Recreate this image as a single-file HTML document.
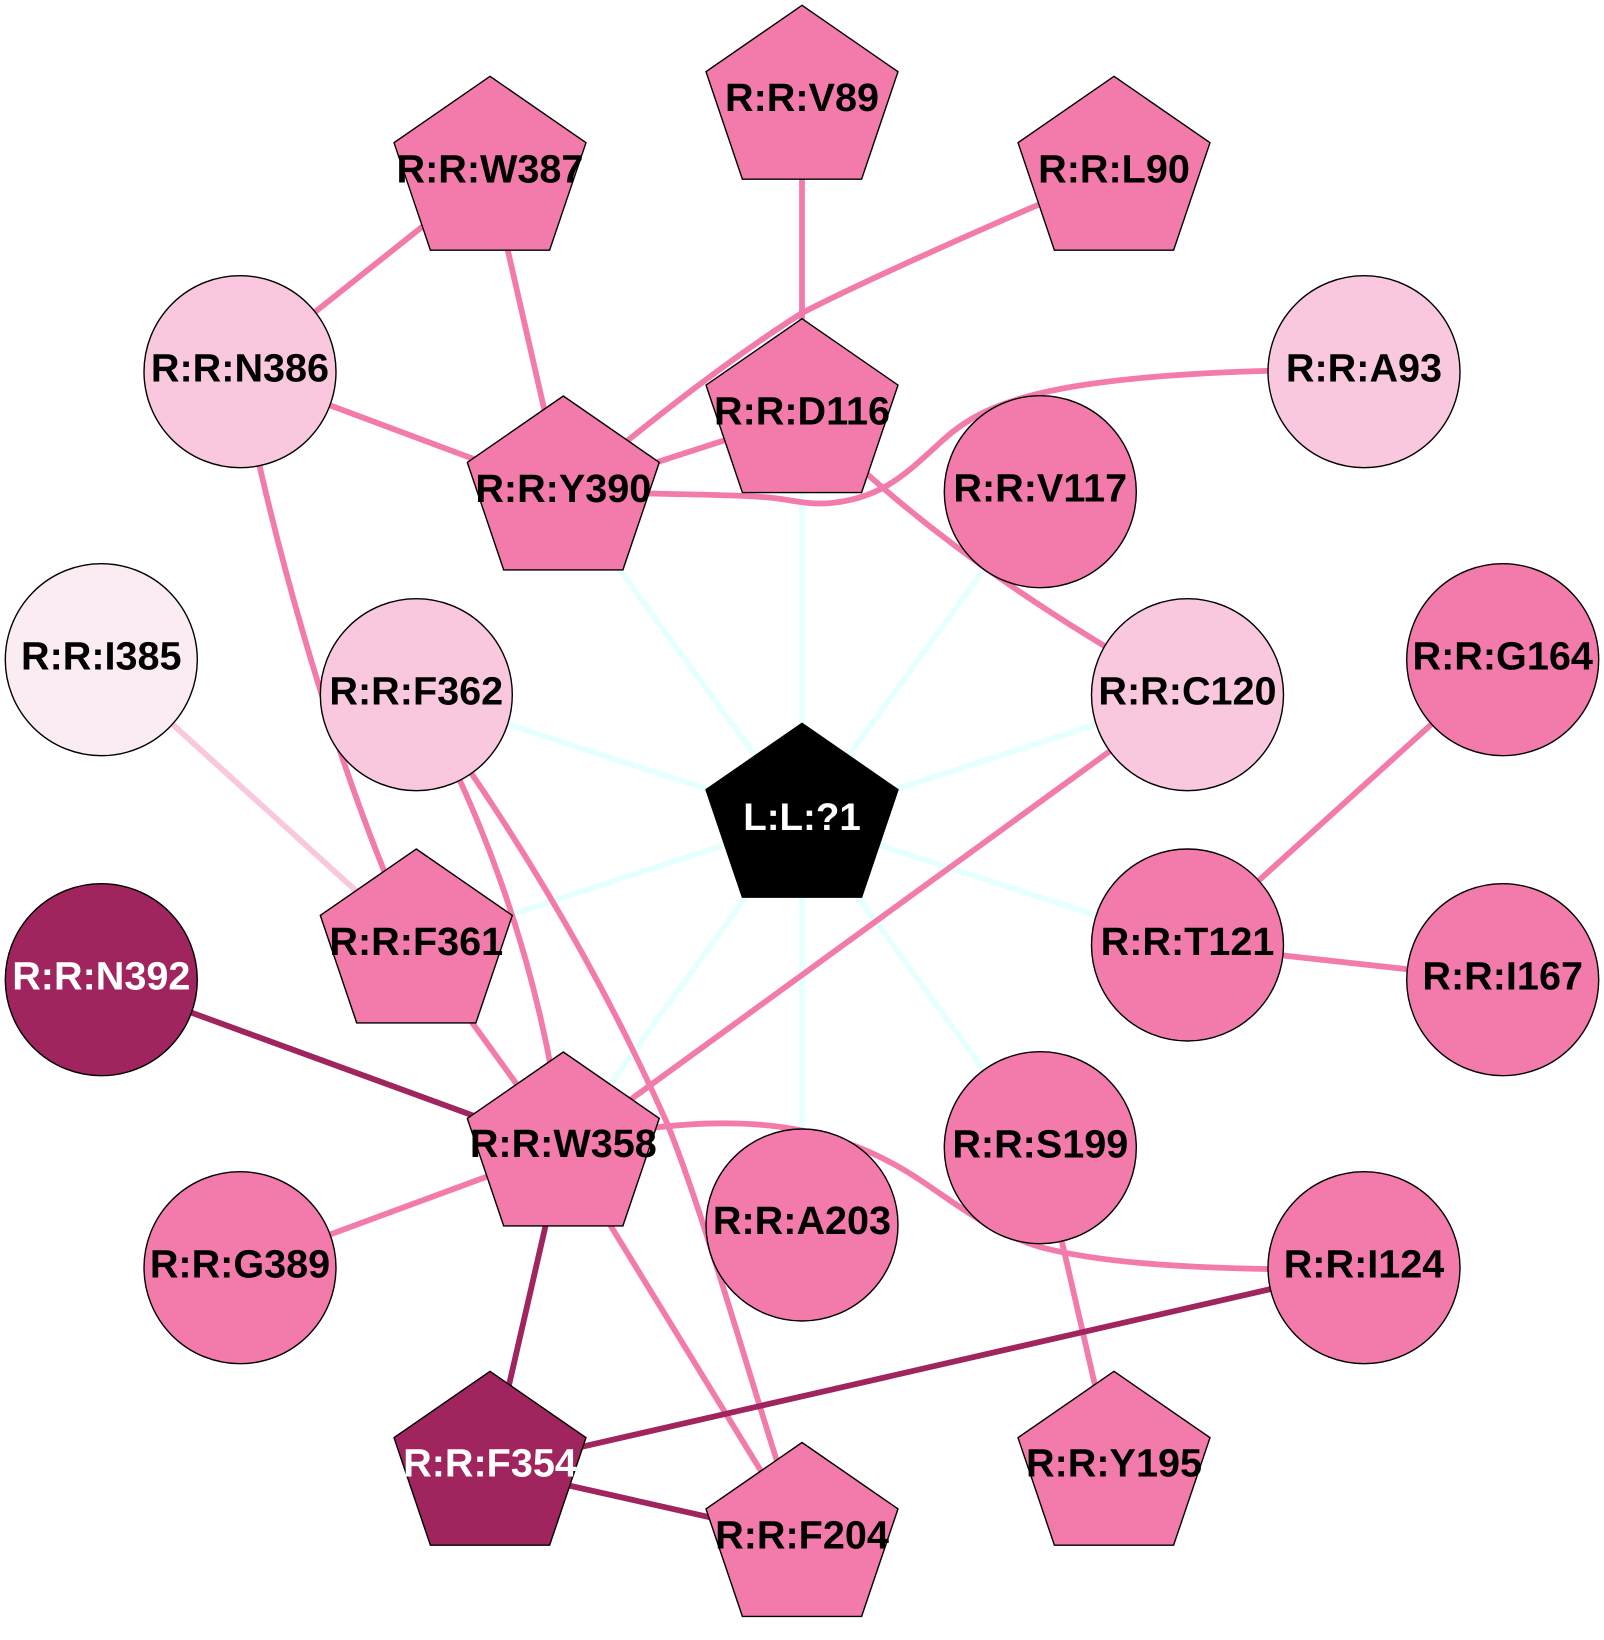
<!DOCTYPE html>
<html><head><meta charset="utf-8"><style>
html,body{margin:0;padding:0;background:#fff}
svg{display:block}
text{font-family:"Liberation Sans",Arial,sans-serif;font-weight:bold;font-size:39.6px;text-anchor:middle;fill:#000;text-rendering:geometricPrecision}
text.w{fill:#fff}
.c line{stroke:#e6ffff}
.e line,.e path{stroke:#f27bab}
.d line{stroke:#a0245e}
g.e,g.c,g.d{fill:none;stroke-width:5.8}
.n circle,.n polygon{stroke:#000;stroke-width:1.4}
.p{fill:#f27bab}.l{fill:#f9c8de}.v{fill:#fbecf4}.k{fill:#a0245e}.b{fill:#000}
</style></head><body>
<svg width="1604" height="1640" viewBox="0 0 1604 1640" xmlns="http://www.w3.org/2000/svg">
<rect width="1604" height="1640" fill="#fff"/>
<g class="c">
<line x1="802" y1="819.8" x2="563.3" y2="492.5"/>
<line x1="802" y1="819.8" x2="802" y2="415.2"/>
<line x1="802" y1="819.8" x2="1040.3" y2="491.7"/>
<line x1="802" y1="819.8" x2="1187.5" y2="694.7"/>
<line x1="802" y1="819.8" x2="1187.5" y2="945"/>
<line x1="802" y1="819.8" x2="1040.3" y2="1147.7"/>
<line x1="802" y1="819.8" x2="802" y2="1225"/>
<line x1="802" y1="819.8" x2="563.3" y2="1148.5"/>
<line x1="802" y1="819.8" x2="416.3" y2="945.5"/>
<line x1="802" y1="819.8" x2="416.3" y2="694.7"/>
</g>
<g class="e">
<line x1="802" y1="101.8" x2="802" y2="415.2"/>
<line x1="490" y1="172.8" x2="240" y2="371.7"/>
<line x1="490" y1="172.8" x2="563.3" y2="492.5"/>
<line x1="240" y1="371.7" x2="563.3" y2="492.5"/>
<path d="M563.3 492.5C640 430 720 365 802 313C860 283 1000 220 1114 172.8"/>
<line x1="563.3" y1="492.5" x2="802" y2="415.2"/>
<path d="M563.3 492C650 494 720 494 763 497C790 499 800 504 825 503.5C880 500 905 475 943 440C985 402 1050 370 1364 369.5"/>
<path d="M802 415C865 470 940 555 1187.5 694.7"/>
<path d="M240 371.7C268 525 335 770 416.3 945.5"/>
<path d="M416.3 694.7C500 810 590 950 667 1123C710 1230 755 1400 802 1538"/>
<path d="M416.3 694.7C470 790 540 950 563.3 1148.5"/>
<line x1="416.3" y1="945.5" x2="563.3" y2="1148.5"/>
<line x1="240" y1="1267.7" x2="563.3" y2="1148.5"/>
<line x1="563.3" y1="1148.5" x2="802" y2="1538"/>
<line x1="563.3" y1="1148.5" x2="1187.5" y2="694.7"/>
<path d="M563 1145C610 1130 690 1122 737 1123.5C800 1125 860 1140 920 1180C955 1203 990 1232 1040 1247C1100 1263 1190 1270 1364 1270"/>
<line x1="1040.3" y1="1147.7" x2="1114" y2="1467.8"/>
<line x1="1502.7" y1="659.7" x2="1187.5" y2="945"/>
<line x1="1187.5" y1="945" x2="1502.7" y2="979.7"/>
<line x1="101.3" y1="659.7" x2="416.3" y2="945.5" style="stroke:#f9c8de"/>
</g>
<g class="d">
<line x1="101.3" y1="979.7" x2="563.3" y2="1148.5"/>
<line x1="563.3" y1="1148.5" x2="490" y2="1467.8"/>
<line x1="490" y1="1467.8" x2="1364" y2="1267.7"/>
<line x1="490" y1="1467.8" x2="802" y2="1538"/>
</g>
<g class="n">
<circle class="l" cx="240" cy="371.7" r="96"/>
<circle class="l" cx="1364" cy="371.7" r="96"/>
<circle class="p" cx="1040.3" cy="491.7" r="96"/>
<circle class="v" cx="101.3" cy="659.7" r="96"/>
<circle class="l" cx="416.3" cy="694.7" r="96"/>
<circle class="k" cx="101.3" cy="979.7" r="96"/>
<circle class="l" cx="1187.5" cy="694.7" r="96"/>
<circle class="p" cx="1502.7" cy="659.7" r="96"/>
<circle class="p" cx="1187.5" cy="945" r="96"/>
<circle class="p" cx="1502.7" cy="979.7" r="96"/>
<circle class="p" cx="240" cy="1267.7" r="96"/>
<circle class="p" cx="802" cy="1225" r="96"/>
<circle class="p" cx="1040.3" cy="1147.7" r="96"/>
<circle class="p" cx="1364" cy="1267.7" r="96"/>
<polygon class="b" transform="translate(802,723.3)" points="0,0 96,66.4 59.6,173.9 -59.6,173.9 -96,66.4"/>
<polygon class="p" transform="translate(802,5.3)" points="0,0 96,66.4 59.6,173.9 -59.6,173.9 -96,66.4"/>
<polygon class="p" transform="translate(490,76.3)" points="0,0 96,66.4 59.6,173.9 -59.6,173.9 -96,66.4"/>
<polygon class="p" transform="translate(1114,76.3)" points="0,0 96,66.4 59.6,173.9 -59.6,173.9 -96,66.4"/>
<polygon class="p" transform="translate(802,318.7)" points="0,0 96,66.4 59.6,173.9 -59.6,173.9 -96,66.4"/>
<polygon class="p" transform="translate(563.3,396)" points="0,0 96,66.4 59.6,173.9 -59.6,173.9 -96,66.4"/>
<polygon class="p" transform="translate(416.3,849)" points="0,0 96,66.4 59.6,173.9 -59.6,173.9 -96,66.4"/>
<polygon class="p" transform="translate(563.3,1052)" points="0,0 96,66.4 59.6,173.9 -59.6,173.9 -96,66.4"/>
<polygon class="k" transform="translate(490,1371.3)" points="0,0 96,66.4 59.6,173.9 -59.6,173.9 -96,66.4"/>
<polygon class="p" transform="translate(1114,1371.3)" points="0,0 96,66.4 59.6,173.9 -59.6,173.9 -96,66.4"/>
<polygon class="p" transform="translate(802,1442.5)" points="0,0 96,66.4 59.6,173.9 -59.6,173.9 -96,66.4"/>
</g>
<g>
<text x="240" y="381.7">R:R:N386</text>
<text x="1364" y="381.7">R:R:A93</text>
<text x="1040.3" y="501.7">R:R:V117</text>
<text x="101.3" y="669.7">R:R:I385</text>
<text x="416.3" y="704.7">R:R:F362</text>
<text class="w" x="101.3" y="989.7">R:R:N392</text>
<text x="1187.5" y="704.7">R:R:C120</text>
<text x="1502.7" y="669.7">R:R:G164</text>
<text x="1187.5" y="955">R:R:T121</text>
<text x="1502.7" y="989.7">R:R:I167</text>
<text x="240" y="1277.7">R:R:G389</text>
<text x="802" y="1234">R:R:A203</text>
<text x="1040.3" y="1157.7">R:R:S199</text>
<text x="1364" y="1277.7">R:R:I124</text>
<text class="w" x="802" y="830" style="font-size:38.5px">L:L:?1</text>
<text x="802" y="111">R:R:V89</text>
<text x="490" y="182.3">R:R:W387</text>
<text x="1114" y="182.3">R:R:L90</text>
<text x="802" y="424.5">R:R:D116</text>
<text x="563.3" y="502">R:R:Y390</text>
<text x="416.3" y="955">R:R:F361</text>
<text x="563.3" y="1157">R:R:W358</text>
<text class="w" x="490" y="1476.3">R:R:F354</text>
<text x="1114" y="1476.3">R:R:Y195</text>
<text x="802" y="1548.5">R:R:F204</text>
</g>
</svg>
</body></html>
